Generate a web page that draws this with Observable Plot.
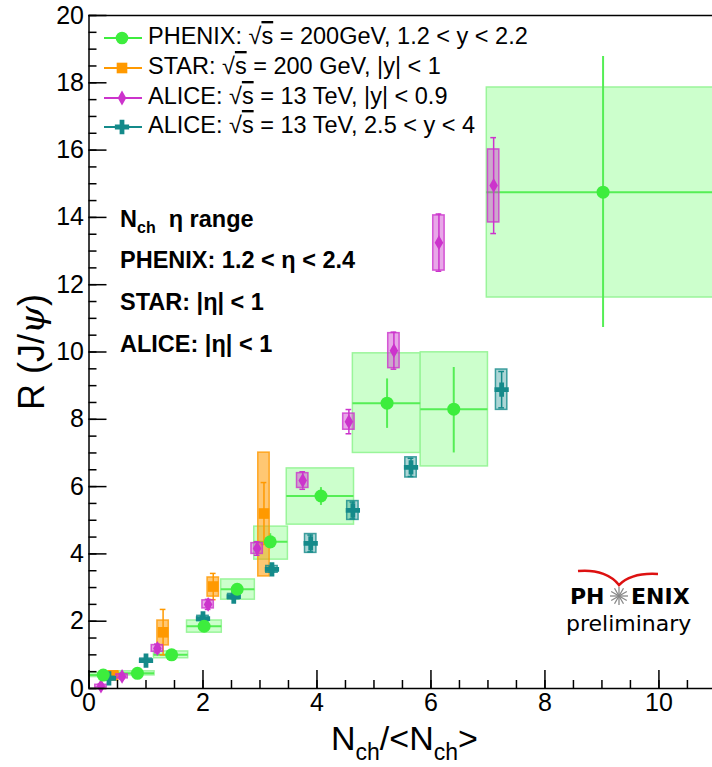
<!DOCTYPE html>
<html><head><meta charset="utf-8">
<script src="https://cdn.jsdelivr.net/npm/d3@7"></script>
<script src="https://cdn.jsdelivr.net/npm/@observablehq/plot@0.6"></script>
<style>body{margin:0;background:#fff;} #chart svg{display:block;}</style>
</head><body><div id="chart"></div>
<script>
// ---------- data ----------
const phenixX      = [0.25, 0.85, 1.45, 2.02, 2.60, 3.18, 4.07, 5.23, 6.40, 9.02];
const phenixR      = [0.40, 0.45, 1.00, 1.85, 2.95, 4.36, 5.72, 8.48, 8.30, 14.75];
const phenixXLo    = [0.00, 0.50, 1.14, 1.72, 2.32, 2.90, 3.47, 4.63, 5.82, 6.98];
const phenixXHi    = [0.50, 1.15, 1.74, 2.33, 2.91, 3.49, 4.65, 5.82, 7.00, 11.06];
const phenixSysLo  = [0.34, 0.39, 0.90, 1.66, 2.64, 3.83, 4.87, 7.00, 6.60, 11.62];
const phenixSysHi  = [0.46, 0.51, 1.10, 2.02, 3.24, 4.81, 6.54, 9.96, 9.99, 17.86];
const phenixStatLo = [0.36, 0.41, 0.95, 1.78, 2.85, 4.15, 5.44, 7.73, 7.00, 10.73];
const phenixStatHi = [0.44, 0.49, 1.05, 1.92, 3.05, 4.60, 5.97, 9.20, 9.54, 18.78];

const starX      = [0.42, 1.30, 2.18, 3.07];
const starR      = [0.39, 1.67, 3.03, 5.20];
const starSysLo  = [0.28, 1.28, 2.73, 3.33];
const starSysHi  = [0.50, 2.02, 3.30, 7.01];
const starStatLo = [0.32, 1.00, 2.64, 4.28];
const starStatHi = [0.46, 2.35, 3.42, 6.12];

const aliceMidX      = [0.21, 0.58, 1.20, 2.09, 2.95, 3.75, 4.56, 5.35, 6.14, 7.10];
const aliceMidR      = [0.07, 0.36, 1.19, 2.50, 4.16, 6.18, 7.93, 10.04, 13.25, 14.95];
const aliceMidSysLo  = [0.03, 0.30, 1.09, 2.38, 4.00, 5.96, 7.69, 9.52, 12.42, 13.85];
const aliceMidSysHi  = [0.11, 0.42, 1.29, 2.62, 4.32, 6.40, 8.17, 10.56, 14.06, 16.02];
const aliceMidStatLo = [0.00, 0.28, 1.06, 2.35, 3.96, 5.92, 7.57, 9.49, 12.40, 13.52];
const aliceMidStatHi = [0.14, 0.44, 1.32, 2.65, 4.36, 6.44, 8.29, 10.59, 14.10, 16.37];

const aliceFwdX      = [0.35, 1.00, 2.00, 2.54, 3.21, 3.89, 4.63, 5.65, 7.24];
const aliceFwdR      = [0.30, 0.83, 2.08, 2.73, 3.54, 4.31, 5.29, 6.57, 8.88];
const aliceFwdSysLo  = [0.25, 0.77, 2.00, 2.65, 3.44, 4.03, 5.01, 6.27, 8.28];
const aliceFwdSysHi  = [0.35, 0.89, 2.16, 2.81, 3.64, 4.59, 5.57, 6.87, 9.48];
const aliceFwdStatLo = [0.27, 0.79, 2.02, 2.67, 3.46, 4.06, 5.04, 6.30, 8.34];
const aliceFwdStatHi = [0.33, 0.87, 2.14, 2.79, 3.62, 4.56, 5.54, 6.84, 9.42];

const xMajorTicks = [0, 2, 4, 6, 8, 10];
const yMajorTicks = [0, 2, 4, 6, 8, 10, 12, 14, 16, 18, 20];

const legendPrefix = ["PHENIX: ", "STAR: ", "ALICE: ", "ALICE: "];
const legendSuffix = [" = 200GeV, 1.2 < y < 2.2", " = 200 GeV, |y| < 1", " = 13 TeV, |y| < 0.9", " = 13 TeV, 2.5 < y < 4"];
const etaLines = ["PHENIX: 1.2 < η < 2.4", "STAR: |η| < 1", "ALICE: |η| < 1"];

// ---------- build tables ----------
const phenix = phenixX.map((x, i) => ({x, r: phenixR[i], xlo: phenixXLo[i], xhi: phenixXHi[i],
  sysLo: phenixSysLo[i], sysHi: phenixSysHi[i], statLo: phenixStatLo[i], statHi: phenixStatHi[i]}));
const mk = (X, R, sl, sh, tl, th) => X.map((x, i) => ({x, r: R[i], sysLo: sl[i], sysHi: sh[i], statLo: tl[i], statHi: th[i]}));
const star = mk(starX, starR, starSysLo, starSysHi, starStatLo, starStatHi);
const aliceMid = mk(aliceMidX, aliceMidR, aliceMidSysLo, aliceMidSysHi, aliceMidStatLo, aliceMidStatHi);
const aliceFwd = mk(aliceFwdX, aliceFwdR, aliceFwdSysLo, aliceFwdSysHi, aliceFwdStatLo, aliceFwdStatHi);

const C = {
  phenix: "#3ded3d", phenixLine: "#55ee55", phenixBox: "#ccffcc", phenixBoxStroke: "#9af59a",
  star: "#ff9900", starBox: "rgba(255,153,0,0.55)",
  aliceMid: "#cc33cc", aliceMidBox: "rgba(204,60,204,0.45)",
  aliceFwd: "#148a8a", aliceFwdBox: "rgba(20,138,138,0.35)"
};

const HW = 0.1, CAP = 0.05;
function series(data, color, boxFill, symbol, r) {
  return [
    Plot.rect(data, {x1: d => d.x - HW, x2: d => d.x + HW, y1: "sysLo", y2: "sysHi", fill: boxFill, stroke: color, strokeWidth: 1.5, strokeOpacity: 0.8}),
    Plot.ruleX(data, {x: "x", y1: "statLo", y2: "statHi", stroke: color, strokeWidth: 1.5}),
    Plot.ruleY(data, {y: "statLo", x1: d => d.x - CAP, x2: d => d.x + CAP, stroke: color, strokeWidth: 1.5}),
    Plot.ruleY(data, {y: "statHi", x1: d => d.x - CAP, x2: d => d.x + CAP, stroke: color, strokeWidth: 1.5}),
    Plot.dot(data, {x: "x", y: "r", symbol, r, fill: color})
  ];
}

const font = "'Liberation Sans', Arial, Helvetica, sans-serif";
const svg = Plot.plot({
  width: 712, height: 767,
  marginLeft: 88.5, marginRight: 0, marginTop: 15, marginBottom: 79,
  x: {domain: [0, 10.94]},
  y: {domain: [0, 20]},
  style: {fontFamily: font, background: "white", color: "black", overflow: "hidden"},
  marks: [
    Plot.rect(phenix, {x1: "xlo", x2: "xhi", y1: "sysLo", y2: "sysHi", fill: C.phenixBox, stroke: C.phenixBoxStroke, strokeWidth: 1.5, clip: true}),
    Plot.ruleY(phenix, {y: "r", x1: "xlo", x2: "xhi", stroke: C.phenixLine, strokeWidth: 2, clip: true}),
    Plot.ruleX(phenix, {x: "x", y1: "statLo", y2: "statHi", stroke: C.phenixLine, strokeWidth: 2}),
    ...series(star, C.star, C.starBox, "square", 6),
    ...series(aliceMid, C.aliceMid, C.aliceMidBox, "diamond", 4.5),
    ...series(aliceFwd, C.aliceFwd, C.aliceFwdBox, "cross", 6),
    Plot.dot(phenix, {x: "x", y: "r", r: 6.5, fill: C.phenix, symbol: "circle"}),
    // frame
    Plot.ruleX([0], {stroke: "black", strokeWidth: 1.5}),
    Plot.ruleY([0], {stroke: "black", strokeWidth: 1.5}),
    Plot.ruleY([20], {stroke: "black", strokeWidth: 1.5}),
    // axes (inward ticks)
    Plot.axisX(d3.range(0, 11, 0.5), {tickSize: -8, tickFormat: () => "", label: null, strokeWidth: 1.5}),
    Plot.axisX(xMajorTicks, {tickSize: -18, tickFormat: () => "", label: null, strokeWidth: 1.5}),
    Plot.axisX(xMajorTicks, {tickSize: 0, tickPadding: 5, fontSize: 25, label: null}),
    Plot.axisY(d3.range(0, 20.01, 0.5), {tickSize: -8, tickFormat: () => "", label: null, strokeWidth: 1.5}),
    Plot.axisY(yMajorTicks, {tickSize: -18, tickFormat: () => "", label: null, strokeWidth: 1.5}),
    Plot.axisY(yMajorTicks, {tickSize: 0, tickPadding: 5, fontSize: 25, label: null})
  ]
});
document.getElementById("chart").appendChild(svg);

// ---------- annotations ----------
const S = d3.select(svg);
const txt = (x, y, size) => S.append("text").attr("x", x).attr("y", y).attr("font-size", size)
  .attr("font-family", font).attr("text-anchor", "start").attr("fill", "black");
// y title
const yt = S.append("text").attr("transform", "translate(44,352) rotate(-90)")
  .attr("text-anchor", "middle").attr("font-size", 36).attr("font-family", font);
yt.append("tspan").text("R (J/");
yt.append("tspan").attr("font-family", "'DejaVu Serif', serif").attr("font-style", "italic").text("ψ");
yt.append("tspan").text(")");
// x title
const xt = txt(331, 750, 34);
xt.append("tspan").text("N");
xt.append("tspan").attr("font-size", 23).attr("dy", 10).text("ch");
xt.append("tspan").attr("dy", -10).text("/<N");
xt.append("tspan").attr("font-size", 23).attr("dy", 10).text("ch");
xt.append("tspan").attr("dy", -10).text(">");

// legend
const legColors = [C.phenix, C.star, C.aliceMid, C.aliceFwd];
const legSymbols = [d3.symbolCircle, d3.symbolSquare, d3.symbolDiamond, d3.symbolCross];
const legSizes = [Math.PI * 40, Math.PI * 36, Math.PI * 20, Math.PI * 36];
const legBase = [44, 74, 104, 133];
legendPrefix.forEach((p, i) => {
  const cy = legBase[i] - 6;
  S.append("line").attr("x1", 104).attr("x2", 142).attr("y1", cy).attr("y2", cy)
    .attr("stroke", legColors[i]).attr("stroke-width", 2);
  S.append("path").attr("d", d3.symbol(legSymbols[i], legSizes[i])())
    .attr("transform", `translate(122,${cy})`).attr("fill", legColors[i]);
  const t = txt(148, legBase[i], 23.5);
  t.append("tspan").text(p + "√");
  t.append("tspan").attr("text-decoration", "overline").text("s");
  t.append("tspan").text(legendSuffix[i]);
});

// eta range block
const h = txt(120, 227, 23.5).attr("font-weight", "bold");
h.append("tspan").text("N");
h.append("tspan").attr("font-size", 16).attr("dy", 6).text("ch");
h.append("tspan").attr("dy", -6).text("  η range");
etaLines.forEach((s, i) => {
  txt(120, [268, 310, 352][i], 23.5).attr("font-weight", "bold").text(s);
});

// PHENIX preliminary logo
const logoFont = "'DejaVu Sans', Verdana, sans-serif";
S.append("path").attr("d", "M578,571 C598,569 612,576 619,585 C628,576 642,573 658,574")
  .attr("fill", "none").attr("stroke", "#dd1111").attr("stroke-width", 2.5);
txt(570, 604, 22).attr("font-weight", "bold").attr("font-family", logoFont).text("PH");
txt(631, 604, 22).attr("font-weight", "bold").attr("font-family", logoFont).text("ENIX");
d3.range(12).forEach(k => {
  const a = k * Math.PI / 6;
  S.append("line").attr("x1", 619).attr("y1", 596).attr("x2", 619 + 9 * Math.cos(a)).attr("y2", 596 + 9 * Math.sin(a))
    .attr("stroke", "#888").attr("stroke-width", 1.3);
});
txt(566, 631, 22).attr("font-family", logoFont).text("preliminary");
</script>
</body></html>
